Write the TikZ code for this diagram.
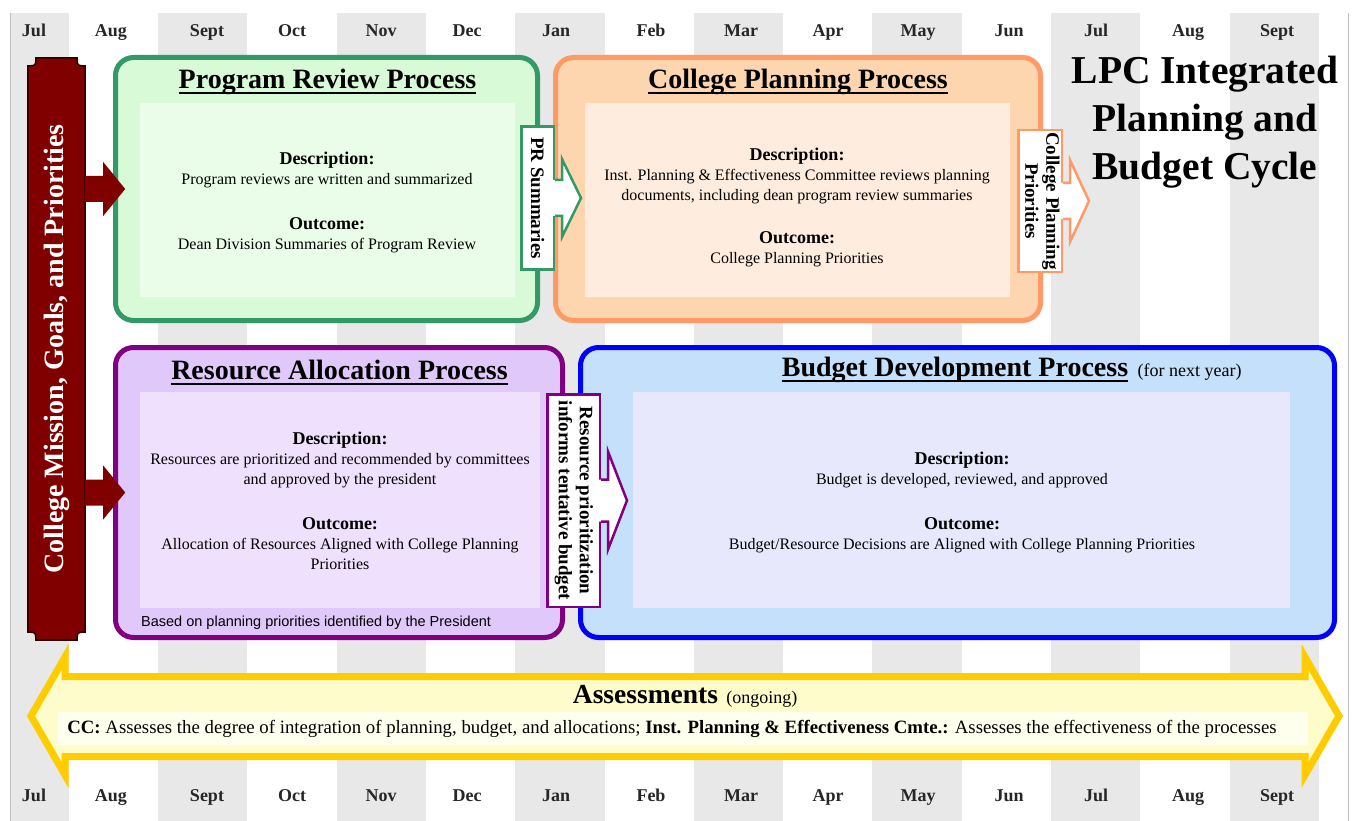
\documentclass[tikz,border=0pt]{standalone}
\usepackage{fontspec}
\setmainfont{Liberation Serif}
\setsansfont{Liberation Sans}
\usetikzlibrary{positioning}

\definecolor{band}{RGB}{232,232,232}
\definecolor{maroon}{RGB}{128,0,0}
\definecolor{prline}{RGB}{51,153,102}
\definecolor{prfill}{RGB}{216,250,214}
\definecolor{prinner}{RGB}{234,253,232}
\definecolor{cpline}{RGB}{255,153,102}
\definecolor{cpfill}{RGB}{253,214,176}
\definecolor{cpinner}{RGB}{254,236,222}
\definecolor{raline}{RGB}{128,0,128}
\definecolor{rafill}{RGB}{224,200,250}
\definecolor{rainner}{RGB}{239,224,253}
\definecolor{bdline}{RGB}{0,0,255}
\definecolor{bdfill}{RGB}{197,224,251}
\definecolor{bdinner}{RGB}{232,232,252}
\definecolor{asline}{RGB}{255,204,0}
\definecolor{asfill}{RGB}{255,252,204}
\definecolor{asinner}{RGB}{255,255,238}

\newcommand{\parthead}[1]{{\fontsize{18}{20}\selectfont\bfseries #1}}

\begin{document}
\begin{tikzpicture}[
      x=1pt, y=-1pt,
      process/.style={draw, line width=5pt, rounded corners=18pt, inner sep=0pt},
      panel/.style={rectangle, inner sep=0pt},
      ptitle/.style={inner sep=0pt, font=\fontsize{28}{32}\selectfont\bfseries},
      body/.style={align=center, inner sep=0pt, font=\fontsize{16}{20}\selectfont},
      flag/.style={draw, fill=white, line width=2.5pt, inner sep=0pt, font=\fontsize{19}{21}\selectfont\bfseries},
      month/.style={font=\fontsize{18}{20}\selectfont\bfseries, text=black!85,
                    inner sep=0pt, text height=12pt, text depth=3pt}
    ]

    % Background and month columns
    \fill[white] (0,0) rectangle (1355,821);
    \useasboundingbox (0,0) rectangle (1355,821);
    \fill[band] (10,13) rectangle (69,821);
    \foreach \x in {158,336.6,515.2,693.8,872.4,1051,1229.6}
      \fill[band] (\x,13) rectangle ++(89.3,808);
    \draw[black!25, line width=1pt] (10,13) -- (10,821);
    \draw[black!25, line width=1pt] (1348,13) -- (1348,821);

    \foreach \m/\x in {Jul/34, Aug/111, Sept/207, Oct/292, Nov/381, Dec/467, Jan/556, Feb/651,
                       Mar/741, Apr/828, May/918, Jun/1009, Jul/1096, Aug/1188, Sept/1277} {
      \node[month] (top\x) at (\x,32) {\m};
      \node[month] (bot\x) at (\x,797) {\m};
    }

    % Process boxes
    \node[process, draw=prline, fill=prfill, minimum width=422, minimum height=263] (prbox) at (326.5,189) {};
    \node[panel, fill=prinner, minimum width=375, minimum height=194] (prpanel) at (327.5,200) {};
    \node[process, draw=cpline, fill=cpfill, minimum width=485, minimum height=263] (cpbox) at (798,189) {};
    \node[panel, fill=cpinner, minimum width=425, minimum height=194] (cppanel) at (797.5,200) {};
    \node[process, draw=raline, fill=rafill, minimum width=447, minimum height=290] (rabox) at (339,492.5) {};
    \node[panel, fill=rainner, minimum width=400, minimum height=216] (rapanel) at (340,500) {};
    \node[process, draw=bdline, fill=bdfill, minimum width=754, minimum height=290] (bdbox) at (957.5,492.5) {};
    \node[panel, fill=bdinner, minimum width=657, minimum height=216] (bdpanel) at (961.5,500) {};

    % Titles
    \node[ptitle] (prtitle) at (327.5,82) {Program Review Process};
    \node[ptitle] (cptitle) at (798,82) {College Planning Process};
    \node[ptitle] (ratitle) at (339.5,370) {Resource Allocation Process};
    \node[ptitle] (bdtitle) at (955,370) {Budget Development Process};
    \node[inner sep=0pt, anchor=base west, font=\fontsize{18}{20}\selectfont] (bdnote)
      at ([xshift=9pt]bdtitle.base east) {(for next year)};
    \foreach \t in {prtitle, cptitle, ratitle, bdtitle}
      \draw[line width=2pt] ([yshift=-4.5pt]\t.base west) -- ([yshift=-4.5pt]\t.base east);

    \node[inner sep=0pt, align=center, font=\fontsize{39.5}{48}\selectfont\bfseries] (maintitle)
      at (1205,122) {LPC Integrated\\Planning and\\Budget Cycle};

    % Descriptions
    \node[body] (prdesc) at (327,170) {\parthead{Description:}\\Program reviews are written and summarized};
    \node[body] (prout) at (327,235) {\parthead{Outcome:}\\Dean Division Summaries of Program Review};
    \node[body] (cpdesc) at (797,176) {\parthead{Description:}\\Inst. Planning \& Effectiveness Committee reviews planning\\documents, including dean program review summaries};
    \node[body] (cpout) at (797,249) {\parthead{Outcome:}\\College Planning Priorities};
    \node[body] (radesc) at (340,460) {\parthead{Description:}\\Resources are prioritized and recommended by committees\\and approved by the president};
    \node[body] (raout) at (340,544) {\parthead{Outcome:}\\Allocation of Resources Aligned with College Planning\\Priorities};
    \node[body] (bddesc) at (962,470) {\parthead{Description:}\\Budget is developed, reviewed, and approved};
    \node[body] (bdout) at (962,535) {\parthead{Outcome:}\\Budget/Resource Decisions are Aligned with College Planning Priorities};
    \node[inner sep=0pt, anchor=west, font=\sffamily\fontsize{14.5}{16}\selectfont] (rafoot)
      at (141,623) {Based on planning priorities identified by the President};

    % Mission bar
    \node[inner sep=0pt, minimum width=57, minimum height=582] (mission) at (56.5,349) {};
    \draw[fill=maroon, draw=black!70!maroon, line width=1.5pt]
      ([xshift=8pt]mission.north west) -- ([xshift=-8pt]mission.north east)
      .. controls ([xshift=-8pt,yshift=-8pt]mission.north east) .. ([yshift=-8pt]mission.north east)
      -- ([yshift=8pt]mission.south east)
      .. controls ([xshift=-8pt,yshift=8pt]mission.south east) .. ([xshift=-8pt]mission.south east)
      -- ([xshift=8pt]mission.south west)
      .. controls ([xshift=8pt,yshift=8pt]mission.south west) .. ([yshift=8pt]mission.south west)
      -- ([yshift=-8pt]mission.north west)
      .. controls ([xshift=8pt,yshift=-8pt]mission.north west) .. cycle;
    \node[rotate=90, text=white, font=\fontsize{28}{30}\selectfont\bfseries] (missiontext)
      at (mission) {College Mission, Goals, and Priorities};

    % Arrows from the mission bar
    \foreach \b in {prbox, rabox}
      \fill[maroon] (mission.east |- \b.west) ++(0,-13) -- ++(18,0) -- ++(0,-14) -- ++(22,27)
        -- ++(-22,27) -- ++(0,-14) -- ++(-18,0) -- cycle;

    % Hand-over flags
    \node[flag, draw=prline, minimum width=32.5, minimum height=142.5] (prflag) at (537.5,198)
      {\rotatebox{-90}{PR Summaries}};
    \node[flag, draw=cpline, minimum width=43.5, minimum height=141.5] (cpflag) at (1040,201)
      {\rotatebox{-90}{\begin{tabular}{@{}c@{}}College Planning\\Priorities\end{tabular}}};
    \node[flag, draw=raline, minimum width=52.5, minimum height=212.5] (raflag) at (573.5,500.5)
      {\rotatebox{-90}{\begin{tabular}{@{}c@{}}Resource prioritization\\informs tentative budget\end{tabular}}};

    \foreach \f/\c/\s/\h in {prflag/prline/18/39, cpflag/cpline/18/41, raflag/raline/21/49} {
      \fill[white] ([xshift=-2pt]\f.east) ++(0,-\s) -- ++(9,0) -- ++(0,\s-\h) -- ++(19,\h)
        -- ++(-19,\h) -- ++(0,\s-\h) -- ++(-9,0) -- cycle;
      \draw[\c, line width=2.5pt] (\f.east) ++(0,-\s) -- ++(7,0) -- ++(0,\s-\h) -- ++(19,\h)
        -- ++(-19,\h) -- ++(0,\s-\h) -- ++(-7,0);
    }

    % Assessments
    \draw[asline, fill=asfill, line width=7pt, line join=miter]
      (31,716) -- (65,657) -- (65,676.5) -- (1305,676.5) -- (1305,657) -- (1339,716)
      -- (1305,775) -- (1305,756.5) -- (65,756.5) -- (65,775) -- cycle;
    \fill[asinner] (58,712) rectangle (1308,745);
    \node[inner sep=0pt, font=\fontsize{27.5}{30}\selectfont\bfseries] (astitle) at (645.5,695) {Assessments};
    \node[inner sep=0pt, anchor=base west, font=\fontsize{18}{20}\selectfont] (asnote)
      at ([xshift=8pt]astitle.base east) {(ongoing)};
    \node[inner sep=0pt, font=\fontsize{18.8}{20}\selectfont] (ascc) at (672,729)
      {\textbf{CC:} Assesses the degree of integration of planning, budget, and allocations; \textbf{Inst. Planning \& Effectiveness Cmte.:} Assesses the effectiveness of the processes};

  \end{tikzpicture}
\end{document}
